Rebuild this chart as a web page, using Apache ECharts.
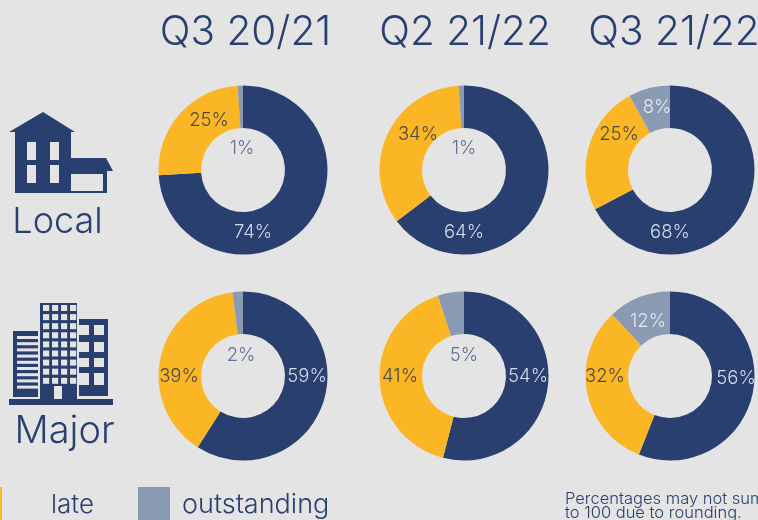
<!DOCTYPE html>
<html><head><meta charset="utf-8">
<style>html,body{margin:0;padding:0;background:#e4e4e4}#c{width:758px;height:520px}</style>
<script src="https://cdn.jsdelivr.net/npm/echarts@6/dist/echarts.min.js"></script>
</head><body><div id="c"></div>
<script>
const quarters = ['Q3 20/21', 'Q2 21/22', 'Q3 21/22'];
const rows = ['Local', 'Major'];
const categories = ['on time', 'late', 'outstanding'];
const local_q3_2021 = [74, 25, 1];
const local_q2_2122 = [64, 34, 1];
const local_q3_2122 = [68, 25, 8];
const major_q3_2021 = [59, 39, 2];
const major_q2_2122 = [54, 41, 5];
const major_q3_2122 = [56, 32, 12];
const footnote = ['Percentages may not sum', 'to 100 due to rounding.'];

const NAVY = '#283f70', YEL = '#fbb625', GREY = '#8b9ab3', BG = '#e4e4e4', FONT = 'Inter, Roboto, sans-serif';
const colX = [243, 464, 670], rowY = [170, 376];
const values = [[local_q3_2021, local_q2_2122, local_q3_2122], [major_q3_2021, major_q2_2122, major_q3_2122]];
// label centres relative to each doughnut's centre
const labelAt = [
  [[[10, 62], [-34, -50], [-1, -22]], [[0, 62], [-46, -36], [0, -22]], [[0, 62], [-51, -36], [-13, -63]]],
  [[[64, 0], [-64, 0], [-2, -21]], [[64, 0], [-64, 0], [0, -21]], [[66, 2], [-65, 0], [-22, -55]]]
];
const labelCol = [
  [['#d5dcea', '#4b4a45', '#5f7093'], ['#d5dcea', '#4b4a45', '#5f7093'], ['#d5dcea', '#4b4a45', '#e4e7ee']],
  [['#d5dcea', '#4b4a45', '#5f7093'], ['#d5dcea', '#4b4a45', '#5f7093'], ['#d5dcea', '#4b4a45', '#e4e7ee']]
];

const series = [];
values.forEach((row, r) => row.forEach((vals, c) => {
  const cx = colX[c], cy = rowY[r];
  series.push({
    type: 'pie', silent: true, animation: false, startAngle: 90, clockwise: true,
    center: [cx, cy], radius: [42, 84.5], minAngle: 0,
    label: { show: true, position: 'inside', fontFamily: FONT, fontSize: 18.5, fontWeight: 300, formatter: '{c}%' },
    labelLine: { show: false },
    labelLayout: p => ({ x: cx + labelAt[r][c][p.dataIndex][0], y: cy + labelAt[r][c][p.dataIndex][1], align: 'center', verticalAlign: 'middle' }),
    data: vals.map((v, i) => ({ name: categories[i], value: v, itemStyle: { color: [NAVY, YEL, GREY][i] }, label: { color: labelCol[r][c][i] } }))
  });
}));

const g = [];
const rect = (x, y, w, h, fill) => g.push({ type: 'rect', silent: true, shape: { x, y, width: w, height: h }, style: { fill } });
const text = (x, y, t, size, weight, align, fill) => g.push({ type: 'text', silent: true, x, y, style: { text: t, font: `${weight} ${size}px ${FONT}`, fill: fill || NAVY, align: align || 'left', verticalAlign: 'middle' } });
const poly = (points, fill) => g.push({ type: 'polygon', silent: true, shape: { points }, style: { fill } });

quarters.forEach((q, i) => text([245.5, 465, 674][i], 33, q, 40.5, 300, 'center'));
text(57.5, 222, rows[0], 36, 300, 'center');
text(64.5, 432, rows[1], 38, 300, 'center');

// house icon
poly([[9, 132], [43, 112], [75, 132]], NAVY);
rect(15, 132, 56, 61, NAVY);
[27, 50].forEach(x => [142, 165].forEach(y => rect(x, y, 9, 18, BG)));
poly([[70, 158], [106, 158], [113, 171], [70, 171]], NAVY);
rect(70, 171, 37, 22, NAVY);
rect(71, 174, 32, 17, BG);

// office block icon
rect(9, 399, 104, 6, NAVY);
rect(40, 303, 37, 97, NAVY);
for (let a = 0; a < 4; a++) for (let b = 0; b < 9; b++) rect(43 + a * 9, 305 + b * 9.1, 6.2, 6, BG);
rect(54, 386, 8, 13, BG);
rect(13, 331, 25, 66, NAVY);
for (let b = 0; b < 9; b++) rect(17, 336 + b * 6.2, 21, 3, BG);
rect(79, 319, 29, 77, NAVY);
[[325, 10], [342, 10], [358, 9], [373, 12]].forEach(([y, h]) => { rect(79, y, 10, h, BG); rect(94, y, 10, h, BG); });

// legend
rect(-30, 487, 32, 33, YEL);
rect(138, 487, 32, 33, GREY);
text(51, 505, categories[1], 26, 300);
text(182, 505, categories[2], 27, 300);

text(565, 499, footnote[0], 16.5, 300);
text(565, 513, footnote[1], 16.5, 300);

const chart = echarts.init(document.getElementById('c'), null, { renderer: 'canvas' });
chart.setOption({ backgroundColor: BG, animation: false, series, graphic: g });
</script></body></html>
